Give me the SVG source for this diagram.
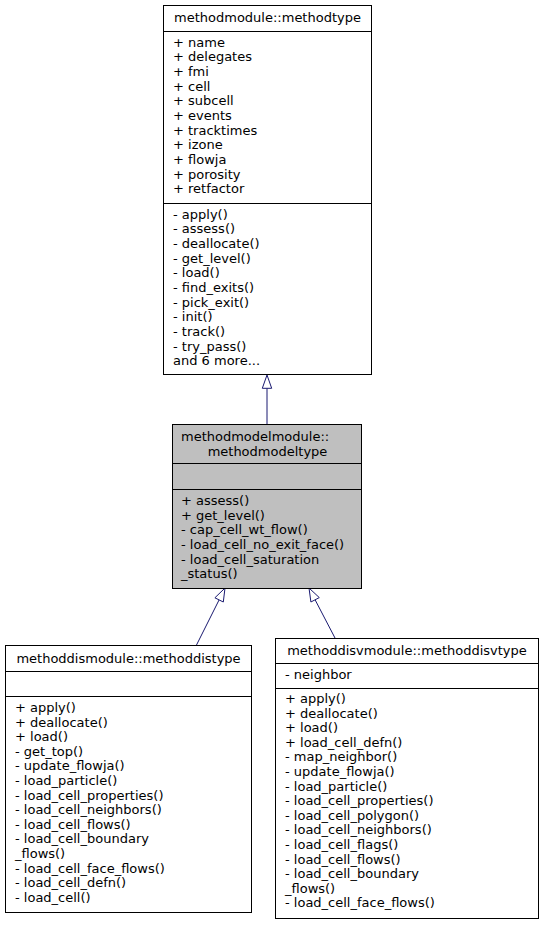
<svg xmlns="http://www.w3.org/2000/svg" width="544" height="925" viewBox="0 0 544 925">
<style>
text{font-family:"DejaVu Sans",sans-serif;font-size:13px;fill:#000}
.c{text-anchor:middle}
.box{fill:#fff;stroke:#000;stroke-width:1}
.focus{fill:#bfbfbf;stroke:#000;stroke-width:1}
.sep{stroke:#000;stroke-width:1}
.edge{stroke:#191970;stroke-width:1;fill:none}
.head{fill:#fff;stroke:#191970;stroke-width:1}
</style>
<rect width="544" height="925" fill="#fff"/>
<g id="connectors">
<path class="edge" d="M267,388.3 L267,424.5"/>
<polygon class="head" points="267,375 271.7,388.3 262.3,388.3"/>
<path class="edge" d="M219.1,599.9 L196.5,645"/>
<polygon class="head" points="225,588 223.3,602 214.9,597.8"/>
<path class="edge" d="M315.1,599.8 L335,638"/>
<polygon class="head" points="309,588 319.3,597.6 310.9,602"/>
</g>
<g id="methodtype">
<rect class="box" x="163.5" y="5.5" width="208" height="369"/>
<line class="sep" x1="163.5" y1="31.5" x2="371.5" y2="31.5"/>
<line class="sep" x1="163.5" y1="203.5" x2="371.5" y2="203.5"/>
<text class="c" x="267.5" y="22">methodmodule::methodtype</text>
<text x="173" y="46.7">+ name</text>
<text x="173" y="61.4">+ delegates</text>
<text x="173" y="76">+ fmi</text>
<text x="173" y="90.7">+ cell</text>
<text x="173" y="105.4">+ subcell</text>
<text x="173" y="120">+ events</text>
<text x="173" y="134.7">+ tracktimes</text>
<text x="173" y="149.4">+ izone</text>
<text x="173" y="164">+ flowja</text>
<text x="173" y="178.7">+ porosity</text>
<text x="173" y="193.4">+ retfactor</text>
<text x="173" y="218.5">- apply()</text>
<text x="173" y="233.2">- assess()</text>
<text x="173" y="247.8">- deallocate()</text>
<text x="173" y="262.5">- get_level()</text>
<text x="173" y="277.2">- load()</text>
<text x="173" y="291.8">- find_exits()</text>
<text x="173" y="306.5">- pick_exit()</text>
<text x="173" y="321.2">- init()</text>
<text x="173" y="335.8">- track()</text>
<text x="173" y="350.5">- try_pass()</text>
<text x="173" y="365.2">and 6 more...</text>
</g>
<g id="methodmodeltype">
<rect class="focus" x="172.5" y="424.5" width="189" height="164"/>
<line class="sep" x1="172.5" y1="463.5" x2="361.5" y2="463.5"/>
<line class="sep" x1="172.5" y1="489.5" x2="361.5" y2="489.5"/>
<text x="181" y="441">methodmodelmodule::</text>
<text class="c" x="267.5" y="455.5">methodmodeltype</text>
<text x="181" y="505">+ assess()</text>
<text x="181" y="519.7">+ get_level()</text>
<text x="181" y="534.3">- cap_cell_wt_flow()</text>
<text x="181" y="549">- load_cell_no_exit_face()</text>
<text x="181" y="563.7">- load_cell_saturation</text>
<text x="181" y="578.3">_status()</text>
</g>
<g id="methoddistype">
<rect class="box" x="5.5" y="645.5" width="246" height="267"/>
<line class="sep" x1="5.5" y1="671.5" x2="251.5" y2="671.5"/>
<line class="sep" x1="5.5" y1="696.5" x2="251.5" y2="696.5"/>
<text class="c" x="128.5" y="663">methoddismodule::methoddistype</text>
<text x="15" y="712">+ apply()</text>
<text x="15" y="726.6">+ deallocate()</text>
<text x="15" y="741.2">+ load()</text>
<text x="15" y="755.8">- get_top()</text>
<text x="15" y="770.4">- update_flowja()</text>
<text x="15" y="785">- load_particle()</text>
<text x="15" y="799.6">- load_cell_properties()</text>
<text x="15" y="814.2">- load_cell_neighbors()</text>
<text x="15" y="828.8">- load_cell_flows()</text>
<text x="15" y="843.4">- load_cell_boundary</text>
<text x="15" y="858">_flows()</text>
<text x="15" y="872.6">- load_cell_face_flows()</text>
<text x="15" y="887.2">- load_cell_defn()</text>
<text x="15" y="901.8">- load_cell()</text>
</g>
<g id="methoddisvtype">
<rect class="box" x="275.5" y="638.5" width="263" height="280"/>
<line class="sep" x1="275.5" y1="663.5" x2="538.5" y2="663.5"/>
<line class="sep" x1="275.5" y1="688.5" x2="538.5" y2="688.5"/>
<text class="c" x="407" y="655">methoddisvmodule::methoddisvtype</text>
<text x="285" y="678.5">- neighbor</text>
<text x="285" y="703">+ apply()</text>
<text x="285" y="717.6">+ deallocate()</text>
<text x="285" y="732.2">+ load()</text>
<text x="285" y="746.8">+ load_cell_defn()</text>
<text x="285" y="761.4">- map_neighbor()</text>
<text x="285" y="776">- update_flowja()</text>
<text x="285" y="790.6">- load_particle()</text>
<text x="285" y="805.2">- load_cell_properties()</text>
<text x="285" y="819.8">- load_cell_polygon()</text>
<text x="285" y="834.4">- load_cell_neighbors()</text>
<text x="285" y="849">- load_cell_flags()</text>
<text x="285" y="863.6">- load_cell_flows()</text>
<text x="285" y="878.2">- load_cell_boundary</text>
<text x="285" y="892.8">_flows()</text>
<text x="285" y="907.4">- load_cell_face_flows()</text>
</g>
</svg>
